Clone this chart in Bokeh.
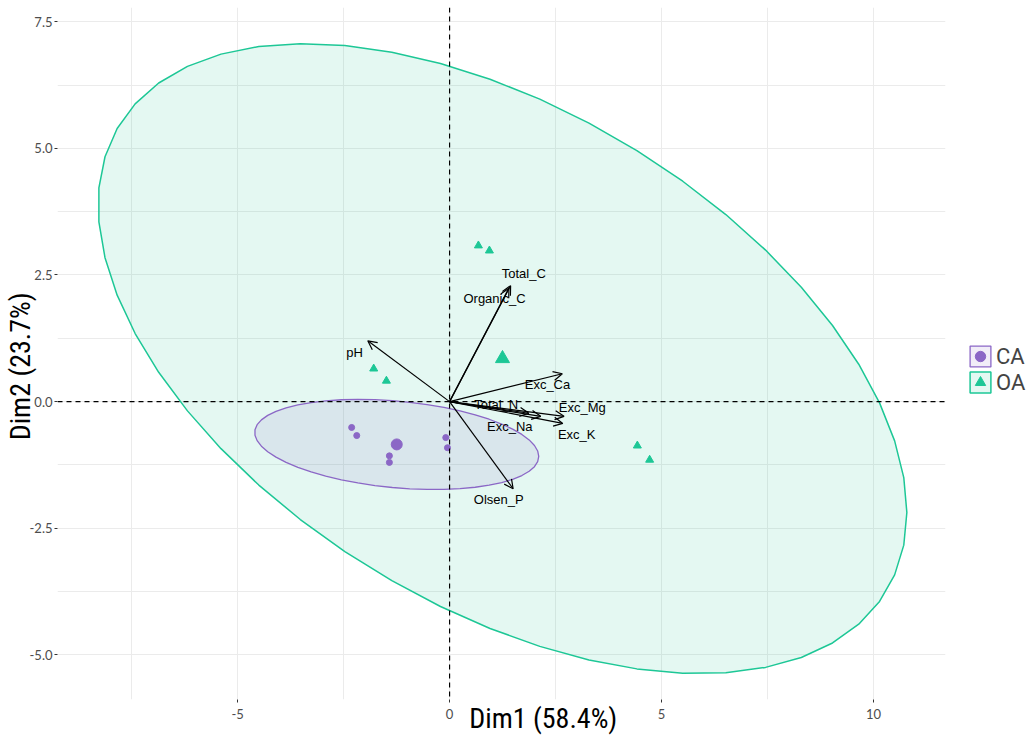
import numpy as np
from bokeh.plotting import figure
from bokeh.models import (ColumnDataSource, Arrow, OpenHead, LabelSet, Legend,
                          LegendItem, FixedTicker, Span, Range1d)
from bokeh.embed import file_html
from bokeh.resources import INLINE
from bokeh.core.properties import value

# ---------------- data ----------------
groups = ["CA", "OA"]
ca_x = [-2.31, -2.19, -1.42, -1.42, -0.09, -0.05]
ca_y = [-0.51, -0.67, -1.07, -1.20, -0.71, -0.91]
oa_x = [0.68, 0.94, -1.79, -1.49, 4.43, 4.72]
oa_y = [3.08, 2.98, 0.65, 0.41, -0.87, -1.15]

var_names = ["Total_C", "Organic_C", "pH", "Exc_Ca", "Total_N", "Exc_Mg", "Exc_Na", "Exc_K", "Olsen_P"]
var_x = [1.44, 1.40, -1.93, 2.66, 1.87, 2.70, 2.15, 2.67, 1.50]
var_y = [2.29, 2.24, 1.20, 0.55, -0.23, -0.29, -0.29, -0.43, -1.72]
label_x = [1.75, 1.06, -2.24, 2.31, 1.10, 3.13, 1.42, 3.00, 1.16]
label_y = [2.52, 2.04, 0.96, 0.33, -0.05, -0.12, -0.49, -0.65, -1.93]

x_ticks = [-5, 0, 5, 10]
x_minor = [-7.5, -2.5, 2.5, 7.5]
y_ticks = [-5.0, -2.5, 0.0, 2.5, 5.0, 7.5]
y_minor = [-3.75, -1.25, 1.25, 3.75, 6.25]
x_title = "Dim1 (58.4%)"
y_title = "Dim2 (23.7%)"

CA_COL = "#8B67C6"
OA_COL = "#1DC796"
GRID = "#EBEBEB"
TITLE_FONT = "'Roboto Condensed', 'Liberation Sans Narrow', 'DejaVu Sans Condensed', Roboto"
NB = "\u00a0"


def norm_ellipse(xs, ys, level=0.95, segments=51):
    pts = np.column_stack([xs, ys])
    n = len(xs)
    center = pts.mean(axis=0)
    cov = np.cov(pts, rowvar=False)
    R = np.linalg.cholesky(cov).T
    d = n - 1
    fq = d / 2.0 * ((1 - level) ** (-2.0 / d) - 1)  # qf(level, 2, n-1)
    radius = np.sqrt(2 * fq)
    ang = np.arange(segments + 1) * 2 * np.pi / segments
    unit = np.column_stack([np.cos(ang), np.sin(ang)])
    e = center + radius * unit @ R
    return list(e[:, 0]), list(e[:, 1])


p = figure(frame_width=888, frame_height=692,
           x_range=Range1d(-9.25, 11.70), y_range=Range1d(-5.88, 7.78),
           output_backend="svg", toolbar_location=None,
           min_border_left=53, min_border_right=75, min_border_top=7, min_border_bottom=0)
p.outline_line_color = None
p.background_fill_color = "white"

# grid / axes
for ax, tk, mn in ((p.xaxis, x_ticks, x_minor), (p.yaxis, y_ticks, y_minor)):
    ax.ticker = FixedTicker(ticks=tk, minor_ticks=mn)
    ax.axis_line_color = None
    ax.major_tick_line_color = "#333333"
    ax.major_tick_line_width = 1
    ax.major_tick_out = 3
    ax.major_tick_in = 0
    ax.minor_tick_line_color = None
    ax.major_label_text_font = "Lato"
    ax.major_label_text_font_size = "13px"
    ax.major_label_text_color = "#4D4D4D"
    ax.axis_label_text_font = TITLE_FONT
    ax.axis_label_text_font_size = "28px"
    ax.axis_label_text_font_style = "normal"
    ax.axis_label_text_color = "black"
p.xaxis.major_label_overrides = {t: str(t) for t in x_ticks}
p.yaxis.major_label_overrides = {t: f"{t:.1f}" for t in y_ticks}
p.xaxis.major_label_standoff = 5
p.yaxis.major_label_standoff = 1
p.xaxis.axis_label = NB * 13 + x_title
p.yaxis.axis_label = y_title + NB * 4
p.xaxis.axis_label_standoff = -20
p.yaxis.axis_label_standoff = -10

for g in (p.xgrid, p.ygrid):
    g.grid_line_color = GRID
    g.grid_line_width = 1
    g.minor_grid_line_color = GRID
    g.minor_grid_line_width = 1

# ellipses
oa_ex, oa_ey = norm_ellipse(oa_x, oa_y)
ca_ex, ca_ey = norm_ellipse(ca_x, ca_y)
e_oa = p.patch(oa_ex, oa_ey, fill_color=OA_COL, fill_alpha=0.12, line_color=OA_COL, line_width=1.5)
e_ca = p.patch(ca_ex, ca_ey, fill_color=CA_COL, fill_alpha=0.12, line_color=CA_COL, line_width=1.3)

# reference lines
p.add_layout(Span(location=0, dimension="height", line_color="black", line_dash="5 4", line_width=1.2))
p.add_layout(Span(location=0, dimension="width", line_color="black", line_dash="5 4", line_width=1.2))

# points
r_ca = p.scatter(ca_x, ca_y, marker="circle", size=6, color=CA_COL)
r_oa = p.scatter(oa_x, oa_y, marker="triangle", size=8, color=OA_COL)
p.scatter([float(np.mean(ca_x))], [float(np.mean(ca_y))], marker="circle", size=11, color=CA_COL)
p.scatter([float(np.mean(oa_x))], [float(np.mean(oa_y))], marker="triangle", size=14, color=OA_COL)

# variable arrows
vsrc = ColumnDataSource(dict(x=var_x, y=var_y, lx=label_x, ly=label_y, name=var_names))
p.add_layout(Arrow(end=OpenHead(size=9, line_width=1.2, line_color="black"),
                   x_start=0, y_start=0, x_end="x", y_end="y", source=vsrc,
                   line_width=1.2, line_color="black"))
p.add_layout(LabelSet(x="lx", y="ly", text="name", source=vsrc,
                      text_font=value("Liberation Sans"), text_font_size="13px",
                      text_color="black", text_align="center", text_baseline="middle"))

# legend
legend = Legend(items=[LegendItem(label=groups[0], renderers=[e_ca, r_ca]),
                       LegendItem(label=groups[1], renderers=[e_oa, r_oa])],
                location=(22, 304), glyph_width=26, glyph_height=26,
                label_text_font="Roboto", label_text_font_size="22px",
                label_standoff=3, padding=0, spacing=0, margin=0,
                border_line_color=None, background_fill_alpha=0)
p.add_layout(legend, "right")

open("out.html", "w").write(file_html(p, INLINE))
